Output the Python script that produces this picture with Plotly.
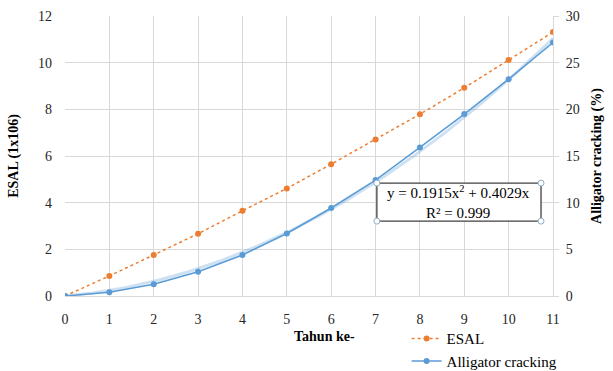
import numpy as np
import plotly.graph_objects as go

# Year index
tahun = [0, 1, 2, 3, 4, 5, 6, 7, 8, 9, 10, 11]

# Cumulative ESAL (x 10^6)
esal = [0, 0.86, 1.76, 2.67, 3.65, 4.61, 5.65, 6.71, 7.79, 8.92, 10.11, 11.31]

# Alligator cracking (%)
alligator = [0, 0.39, 1.25, 2.6, 4.39, 6.7, 9.43, 12.42, 15.92, 19.49, 23.23, 27.16]

# Polynomial trendline coefficients (order 2, through origin)
trend_a = 0.1915
trend_b = 0.4029
trend_r2 = 0.999

ORANGE = "#ED7D31"
BLUE = "#5B9BD5"
GRID = "#D9D9D9"
SERIF = "Liberation Serif"

xt = np.linspace(0, 11, 200)
yt = trend_a * xt ** 2 + trend_b * xt

fig = go.Figure()

fig.add_trace(go.Scatter(
    x=xt, y=yt, yaxis="y2", mode="lines",
    line=dict(color="rgba(91,155,213,0.3)", width=3),
    showlegend=False, hoverinfo="skip"))

fig.add_trace(go.Scatter(
    x=tahun, y=esal, name="ESAL", mode="lines+markers",
    line=dict(color=ORANGE, width=1.5, dash="3px,3px"),
    marker=dict(color=ORANGE, size=6)))

fig.add_trace(go.Scatter(
    x=tahun, y=alligator, name="Alligator cracking", yaxis="y2",
    mode="lines+markers",
    line=dict(color=BLUE, width=1.5),
    marker=dict(color=BLUE, size=6)))

# Equation label box for the trendline
bx0, bx1, by0, by1 = 7.03, 10.73, 3.21, 4.84
fig.add_shape(type="rect", xref="x", yref="y", x0=bx0, x1=bx1, y0=by0, y1=by1,
              line=dict(color="#404040", width=1.3), fillcolor="white", layer="above")
for cx in (bx0, bx1):
    for cy in (by0, by1):
        fig.add_shape(type="circle", xref="x", yref="y",
                      xsizemode="pixel", ysizemode="pixel",
                      xanchor=cx, yanchor=cy, x0=-3, x1=3, y0=-3, y1=3,
                      line=dict(color="#8FAFC8", width=1), fillcolor="white",
                      layer="above")
fig.add_annotation(
    x=(bx0 + bx1) / 2, y=(by0 + by1) / 2, xref="x", yref="y",
    text=f"y = {trend_a}x<sup>2</sup> + {trend_b}x<br>R² = {trend_r2}",
    showarrow=False, align="center",
    font=dict(family=SERIF, size=15, color="black"))

# X axis title
fig.add_annotation(x=5.85, y=-0.143, xref="x", yref="paper", text="<b>Tahun ke-</b>",
                   showarrow=False, yanchor="middle",
                   font=dict(family=SERIF, size=14, color="black"))

fig.update_layout(
    width=613, height=371,
    margin=dict(l=65, r=60, t=16, b=75, autoexpand=False),
    paper_bgcolor="white", plot_bgcolor="white",
    font=dict(family=SERIF, size=14, color="#262626"),
    xaxis=dict(range=[0, 11], dtick=1, showgrid=True, gridcolor=GRID, gridwidth=1,
               zeroline=False, showline=True, linecolor=GRID, linewidth=1,
               ticks="", ticklabelstandoff=10,
               tickfont=dict(family=SERIF, size=14, color="#262626")),
    yaxis=dict(range=[0, 12], dtick=2, showgrid=True, gridcolor=GRID, gridwidth=1,
               zeroline=False, showline=False, ticks="", ticklabelstandoff=12,
               title=dict(text="<b>ESAL (1x106)</b>", standoff=16,
                          font=dict(family=SERIF, size=14, color="black")),
               tickfont=dict(family=SERIF, size=14, color="#262626")),
    yaxis2=dict(range=[0, 30], dtick=5, overlaying="y", side="right",
                showgrid=False, zeroline=False, showline=True, linecolor=GRID,
                ticks="outside", ticklen=5, tickcolor=GRID, ticklabelstandoff=4,
                title=dict(text="<b>Alligator cracking (%)</b>", standoff=12,
                           font=dict(family=SERIF, size=14, color="black")),
                tickfont=dict(family=SERIF, size=14, color="#262626")),
    legend=dict(x=0.7, y=-0.094, xanchor="left", yanchor="top",
                bgcolor="rgba(0,0,0,0)", tracegroupgap=0, itemwidth=30,
                font=dict(family=SERIF, size=15, color="black")),
    showlegend=True,
)

fig.write_html("out.html")
